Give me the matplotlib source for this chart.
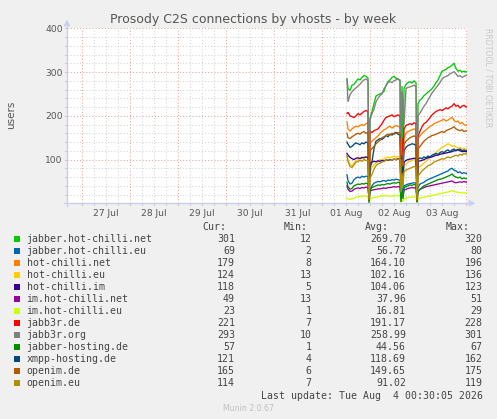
import matplotlib
matplotlib.use('Agg')
import matplotlib.pyplot as plt
from matplotlib.patches import Polygon, Rectangle
from matplotlib.lines import Line2D

W, H = 497, 419

# ---- data (hours relative to 01 Aug 00:00) ----
hours = [12.5, 13, 14, 15, 16, 17, 18, 19, 20, 21, 22, 23,
         23.5,
         24, 25, 26, 27, 28, 29, 30, 31, 32, 33, 34, 35, 36, 37, 38, 39,
         39.5, 40, 40.5,
         41, 42, 43, 44, 45, 46, 47,
         47.5,
         48, 49, 50, 51, 52, 53, 54, 55, 56, 57, 58, 59, 60, 61, 62, 63, 64, 65, 66, 67, 68, 69, 70, 71, 72,
         72.5]

jabber_hot_chilli_net = [285, 262, 258, 270, 272, 278, 284, 282, 288, 292, 290, 286,
    40,
    195, 210, 228, 245, 248, 250, 252, 256, 270, 278, 282, 288, 290, 286, 284, 280,
    15, 268, 30,
    262, 272, 276, 278, 275, 280, 276,
    12,
    228, 236, 240, 246, 250, 254, 258, 262, 268, 276, 282, 292, 302, 304, 306, 310, 312, 316, 320, 308, 302, 304, 300, 302, 300,
    301]
jabber_hot_chilli_eu = [65, 52, 44, 46, 54, 58, 60, 58, 62, 60, 62, 61,
    2,
    30, 40, 46, 48, 50, 49, 51, 52, 50, 53, 52, 54, 53, 55, 54, 53,
    8, 35, 15,
    40, 42, 44, 45, 46, 47, 46,
    3,
    36, 44, 46, 48, 52, 54, 56, 58, 60, 62, 64, 66, 68, 70, 72, 74, 78, 80, 76, 74, 70, 72, 68, 70, 68,
    69]
hot_chilli_net = [186, 170, 165, 170, 174, 176, 175, 178, 180, 178, 182, 184,
    10,
    138, 142, 146, 150, 154, 160, 164, 168, 170, 174, 176, 172, 175, 178, 176, 174,
    60, 130, 90,
    150, 160, 164, 166, 168, 170, 168,
    8,
    148, 154, 160, 164, 168, 172, 176, 178, 182, 184, 186, 188, 190, 192, 188, 190, 194, 196, 190, 186, 188, 182, 185, 180, 178,
    179]
hot_chilli_eu = [106, 100, 88, 86, 92, 98, 100, 104, 102, 106, 105, 104,
    13,
    70, 82, 88, 92, 96, 100, 98, 102, 104, 106, 104, 106, 108, 105, 107, 106,
    20, 80, 50,
    86, 90, 94, 96, 98, 100, 98,
    13,
    80, 84, 88, 92, 96, 100, 104, 108, 112, 116, 120, 124, 128, 130, 133, 136, 134, 130, 132, 128, 126, 128, 124, 126, 124,
    124]
hot_chilli_im = [114, 110, 105, 102, 100, 103, 104, 102, 105, 104, 106, 105,
    8,
    92, 94, 96, 95, 97, 96, 98, 97, 99, 98, 100, 99, 101, 100, 102, 100,
    30, 90, 60,
    94, 98, 100, 101, 102, 103, 102,
    5,
    96, 97, 98, 100, 102, 104, 105, 106, 108, 110, 110, 112, 113, 114, 115, 116, 117, 118, 120, 121, 123, 120, 118, 119, 118,
    118]
im_hot_chilli_net = [40, 32, 27, 28, 32, 34, 35, 34, 36, 35, 37, 36,
    13,
    28, 30, 31, 32, 33, 33, 34, 35, 34, 36, 36, 37, 38, 37, 38, 38,
    14, 26, 16,
    30, 32, 34, 35, 36, 35, 36,
    13,
    28, 32, 34, 36, 38, 39, 40, 41, 42, 43, 44, 45, 46, 47, 48, 49, 50, 51, 48, 47, 48, 49, 48, 50, 48,
    49]
im_hot_chilli_eu = [12, 10, 9, 10, 12, 14, 15, 16, 15, 17, 16, 15,
    3,
    10, 12, 13, 14, 15, 16, 18, 17, 18, 16, 17, 16, 17, 18, 17, 16,
    2, 8, 4,
    10, 12, 13, 14, 14, 15, 14,
    1,
    10, 12, 13, 14, 15, 16, 17, 18, 19, 20, 21, 22, 23, 24, 25, 26, 27, 29, 27, 26, 25, 24, 24, 23, 24,
    23]
jabb3r_de = [205, 208, 200, 198, 196, 200, 205, 202, 206, 210, 212, 210,
    10,
    165, 162, 166, 168, 170, 176, 182, 190, 196, 198, 200, 202, 198, 200, 202, 200,
    120, 150, 110,
    170, 178, 180, 182, 180, 184, 182,
    7,
    152, 165, 175, 182, 185, 190, 196, 202, 206, 210, 212, 214, 212, 215, 218, 216, 220, 222, 228, 222, 224, 218, 222, 224, 220,
    221]
jabb3r_org = [282, 232, 248, 255, 260, 264, 268, 272, 278, 282, 284, 280,
    30,
    190, 205, 215, 232, 240, 246, 250, 262, 268, 276, 278, 276, 280, 282, 284, 282,
    10, 255, 240,
    180, 262, 265, 266, 268, 270, 266,
    10,
    200, 206, 214, 222, 228, 236, 244, 252, 258, 264, 270, 276, 284, 288, 290, 292, 296, 298, 301, 296, 290, 292, 288, 290, 292,
    293]
jabber_hosting_de = [48, 38, 32, 34, 40, 42, 44, 43, 45, 44, 46, 45,
    1,
    30, 36, 38, 40, 42, 41, 43, 42, 44, 45, 44, 46, 47, 46, 48, 47,
    3, 28, 10,
    36, 38, 40, 42, 41, 43, 42,
    2,
    26, 32, 36, 40, 42, 44, 46, 48, 50, 52, 54, 55, 56, 58, 60, 62, 64, 67, 62, 60, 58, 60, 56, 58, 56,
    57]
xmpp_hosting_de = [140, 135, 128, 130, 135, 138, 136, 134, 138, 136, 140, 138,
    6,
    80, 95, 125, 142, 145, 148, 146, 150, 155, 152, 158, 156, 160, 162, 158, 156,
    40, 110, 70,
    120, 128, 132, 134, 136, 135, 132,
    4,
    100, 104, 102, 106, 104, 108, 106, 110, 112, 114, 112, 116, 118, 116, 120, 122, 118, 122, 124, 120, 122, 124, 120, 122, 120,
    121]
openim_de = [160, 150, 148, 152, 155, 158, 160, 158, 162, 164, 160, 162,
    8,
    120, 125, 130, 136, 140, 144, 150, 152, 155, 158, 156, 160, 158, 160, 162, 160,
    70, 100, 85,
    135, 142, 146, 150, 152, 154, 152,
    6,
    125, 130, 136, 142, 146, 150, 152, 155, 156, 158, 160, 162, 164, 162, 166, 168, 170, 172, 175, 170, 168, 166, 168, 164, 166,
    165]
openim_eu = [110, 96, 84, 82, 88, 94, 96, 98, 96, 100, 98, 97,
    7,
    58, 66, 78, 86, 90, 92, 94, 96, 98, 100, 98, 100, 101, 99, 101, 100,
    25, 70, 40,
    72, 76, 78, 80, 82, 84, 82,
    7,
    62, 68, 74, 78, 82, 86, 88, 90, 94, 96, 98, 100, 102, 101, 104, 106, 104, 106, 108, 110, 108, 112, 110, 114, 112,
    114]

names = ['jabber.hot-chilli.net', 'jabber.hot-chilli.eu', 'hot-chilli.net', 'hot-chilli.eu',
         'hot-chilli.im', 'im.hot-chilli.net', 'im.hot-chilli.eu', 'jabb3r.de', 'jabb3r.org',
         'jabber-hosting.de', 'xmpp-hosting.de', 'openim.de', 'openim.eu']
series = [jabber_hot_chilli_net, jabber_hot_chilli_eu, hot_chilli_net, hot_chilli_eu,
          hot_chilli_im, im_hot_chilli_net, im_hot_chilli_eu, jabb3r_de, jabb3r_org,
          jabber_hosting_de, xmpp_hosting_de, openim_de, openim_eu]
colors = ['#00CC00', '#0066B3', '#FF8000', '#FFCC00', '#330099', '#990099', '#CCFF00',
          '#FF0000', '#808080', '#008F00', '#00487D', '#B35A00', '#B38F00']
cur = ['301', '69', '179', '124', '118', '49', '23', '221', '293', '57', '121', '165', '114']
mins = ['12', '2', '8', '13', '5', '13', '1', '7', '10', '1', '4', '6', '7']
avgs = ['269.70', '56.72', '164.10', '102.16', '104.06', '37.96', '16.81', '191.17',
        '258.99', '44.56', '118.69', '149.65', '91.02']
maxs = ['320', '80', '196', '136', '123', '51', '29', '228', '301', '67', '162', '175', '119']

day_labels = ['27 Jul', '28 Jul', '29 Jul', '30 Jul', '31 Jul', '01 Aug', '02 Aug', '03 Aug']
day_label_pos = [-108, -84, -60, -36, -12, 12, 36, 60]
y_ticks = [100, 200, 300, 400]

for s in series:
    assert len(s) == len(hours), (len(s), len(hours))

# ---- figure ----
BG = '#F0F0F0'
FONT = '#555555'
LEGC = '#444444'
AXC = '#C8D0F2'
fig = plt.figure(figsize=(W / 100, H / 100), dpi=100, facecolor=BG)

def fx(x):
    return x / W

def fy(y):
    return 1 - y / H

ax_l, ax_r, ax_t, ax_b = 67, 467, 28.3, 203.3
ax = fig.add_axes([fx(ax_l), fy(ax_b), (ax_r - ax_l) / W, (ax_b - ax_t) / H])
ax.set_facecolor('white')
x0, x1 = -127.5, 72.5
ax.set_xlim(x0, x1)
ax.set_ylim(0, 400)
for sp in ax.spines.values():
    sp.set_visible(False)

# grid
h = -120
while h <= 72:
    if h % 24 == 0:
        ax.axvline(h, color='#E8A0A0', lw=0.75, ls=(0, (1, 2)), zorder=1)
    else:
        ax.axvline(h, color='#D4D4D4', lw=0.75, ls=(0, (1, 2)), zorder=1)
    h += 6
for v in range(20, 401, 20):
    if v % 100 == 0:
        ax.axhline(v, color='#E8A0A0', lw=0.75, ls=(0, (1, 2)), zorder=1)
    else:
        ax.axhline(v, color='#D4D4D4', lw=0.75, ls=(0, (1, 2)), zorder=1)

for s, c in zip(series, colors):
    ax.plot(hours, s, color=c, lw=0.95, zorder=3, solid_joinstyle='miter')

ax.set_xticks(day_label_pos)
ax.set_xticklabels(day_labels)
ax.set_yticks(y_ticks)
ax.set_yticklabels([str(v) for v in y_ticks])
ax.tick_params(axis='both', length=0, labelsize=6.6, labelcolor=FONT, pad=3)
ax.tick_params(axis='x', pad=4)

# minor ticks
for h in range(-120, 73, 6):
    ax.plot([h, h], [0, -4], color='#BBBBBB', lw=0.6, clip_on=False, zorder=2)
for v in range(20, 401, 20):
    ax.plot([x0, x0 - 1.2], [v, v], color='#BBBBBB', lw=0.6, clip_on=False, zorder=2)

# axes lines with arrows (figure pixel coords)
fig.add_artist(Line2D([fx(67), fx(67)], [fy(206), fy(24)], color=AXC, lw=1.0))
fig.add_artist(Line2D([fx(64), fx(470)], [fy(203.3), fy(203.3)], color=AXC, lw=1.0))
fig.add_artist(Polygon([[fx(64), fy(26)], [fx(70), fy(26)], [fx(67), fy(20.5)]], closed=True,
                       facecolor=AXC, edgecolor=AXC, lw=0.5))
fig.add_artist(Polygon([[fx(469), fy(200.3)], [fx(469), fy(206.3)], [fx(474.5), fy(203.3)]], closed=True,
                       facecolor=AXC, edgecolor=AXC, lw=0.5))

# title and labels
fig.text(fx(253), fy(19), 'Prosody C2S connections by vhosts - by week', ha='center', va='center',
         fontsize=9.0, color=FONT, family='DejaVu Sans')
fig.text(fx(11), fy(115), 'users', rotation=90, ha='center', va='center', fontsize=7.5,
         color=FONT, family='DejaVu Sans')
fig.text(fx(488), fy(28), 'RRDTOOL / TOBI OETIKER', rotation=-90, ha='center', va='top',
         fontsize=5.6, color='#C8C8C8', family='DejaVu Sans')

# legend
MONO = 'DejaVu Sans Mono'
LFS = 7.1
fig.text(fx(226), fy(227.3), 'Cur:', ha='right', va='center', fontsize=LFS, color=LEGC, family=MONO)
fig.text(fx(308), fy(227.3), 'Min:', ha='right', va='center', fontsize=LFS, color=LEGC, family=MONO)
fig.text(fx(389), fy(227.3), 'Avg:', ha='right', va='center', fontsize=LFS, color=LEGC, family=MONO)
fig.text(fx(470), fy(227.3), 'Max:', ha='right', va='center', fontsize=LFS, color=LEGC, family=MONO)
for i, (n, c) in enumerate(zip(names, colors)):
    y = 239.3 + 12 * i
    fig.add_artist(Rectangle((fx(14), fy(y + 3)), 6 / W, 6 / H, facecolor=c, edgecolor='none'))
    fig.text(fx(26.5), fy(y), n, ha='left', va='center', fontsize=LFS, color=LEGC, family=MONO)
    fig.text(fx(235), fy(y), cur[i], ha='right', va='center', fontsize=LFS, color=LEGC, family=MONO)
    fig.text(fx(311.7), fy(y), mins[i], ha='right', va='center', fontsize=LFS, color=LEGC, family=MONO)
    fig.text(fx(406), fy(y), avgs[i], ha='right', va='center', fontsize=LFS, color=LEGC, family=MONO)
    fig.text(fx(482.7), fy(y), maxs[i], ha='right', va='center', fontsize=LFS, color=LEGC, family=MONO)

fig.text(fx(482.7), fy(395.7), 'Last update: Tue Aug  4 00:30:05 2026', ha='right', va='center',
         fontsize=LFS, color=LEGC, family=MONO)
fig.text(fx(248), fy(408.3), 'Munin 2.0.67', ha='center', va='center', fontsize=5.6,
         color='#C0C0C0', family='DejaVu Sans')

fig.savefig('out.png', dpi=100, facecolor=BG)
